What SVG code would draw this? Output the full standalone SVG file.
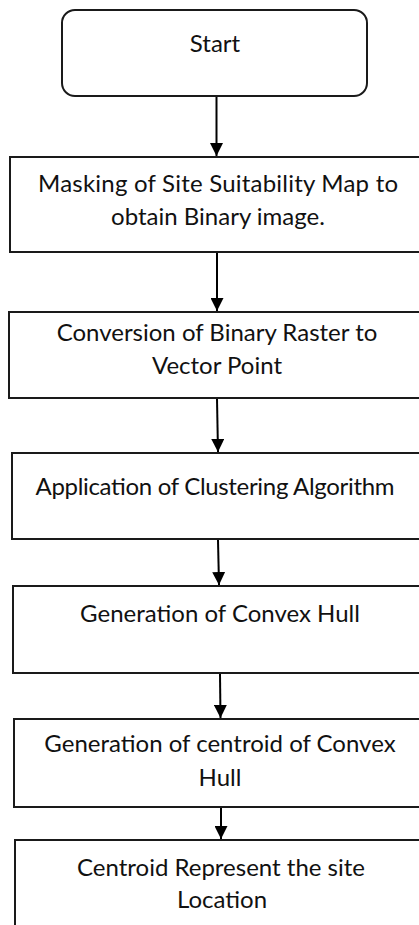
<svg xmlns="http://www.w3.org/2000/svg" width="419" height="925" viewBox="0 0 419 925">
  <defs>
    <marker id="arrow" markerUnits="userSpaceOnUse" markerWidth="14" markerHeight="13" refX="13" refY="6.5" orient="auto">
      <path d="M0,0 L13,6.5 L0,13 Z" fill="#000"/>
    </marker>
    <style>
      .box { fill: #fff; stroke: #1a1a1a; stroke-width: 2; }
      .lbl { font-family: Lato, "Open Sans", sans-serif; font-size: 24px; fill: #111; text-anchor: middle; }
      .conn { stroke: #000; stroke-width: 2; fill: none; marker-end: url(#arrow); }
    </style>
  </defs>
  <rect width="419" height="925" fill="#fff"/>

  <!-- process steps -->
  <g id="start">
    <rect class="box" x="62" y="10" width="305" height="86" rx="13" ry="13"/>
    <text class="lbl" x="215" y="52">Start</text>
  </g>
  <g id="masking">
    <rect class="box" x="10" y="157" width="430" height="95"/>
    <text class="lbl" x="218" y="192" textLength="360" lengthAdjust="spacing">Masking of Site Suitability Map to</text>
    <text class="lbl" x="218" y="225">obtain Binary image.</text>
  </g>
  <g id="conversion">
    <rect class="box" x="9" y="312" width="430" height="86"/>
    <text class="lbl" x="217" y="341">Conversion of Binary Raster to</text>
    <text class="lbl" x="217" y="374">Vector Point</text>
  </g>
  <g id="clustering">
    <rect class="box" x="12" y="453" width="430" height="86"/>
    <text class="lbl" x="215" y="495" textLength="359" lengthAdjust="spacing">Application of Clustering Algorithm</text>
  </g>
  <g id="convex-hull">
    <rect class="box" x="13" y="586" width="430" height="87"/>
    <text class="lbl" x="220" y="622">Generation of Convex Hull</text>
  </g>
  <g id="centroid">
    <rect class="box" x="14" y="719" width="430" height="88"/>
    <text class="lbl" x="220" y="752">Generation of centroid of Convex</text>
    <text class="lbl" x="220" y="786">Hull</text>
  </g>
  <g id="site-location">
    <rect class="box" x="15" y="840" width="430" height="100"/>
    <text class="lbl" x="221" y="876">Centroid Represent the site</text>
    <text class="lbl" x="222" y="908">Location</text>
  </g>

  <!-- connectors -->
  <g id="connectors">
    <line class="conn" x1="216.5" y1="97" x2="216.5" y2="156"/>
    <line class="conn" x1="217" y1="253" x2="217" y2="311"/>
    <line class="conn" x1="217" y1="399" x2="218" y2="452"/>
    <line class="conn" x1="218" y1="540" x2="219" y2="585"/>
    <line class="conn" x1="220" y1="674" x2="220.5" y2="718"/>
    <line class="conn" x1="221" y1="808" x2="221" y2="839"/>
  </g>
</svg>
